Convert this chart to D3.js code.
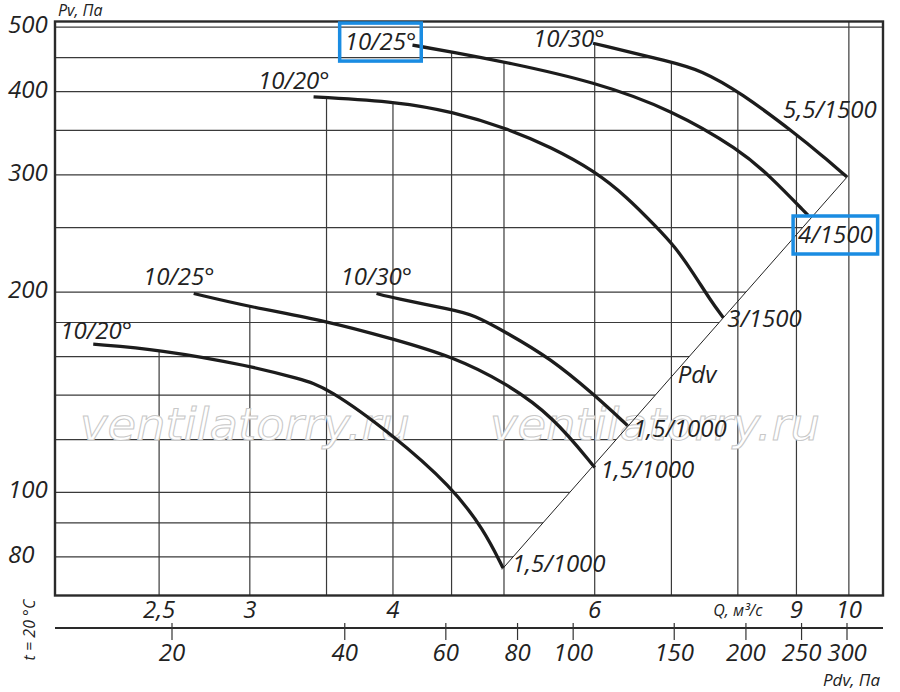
<!DOCTYPE html>
<html>
<head>
<meta charset="utf-8">
<script src="https://cdn.jsdelivr.net/npm/d3@7"></script>
<style>
    html, body { margin: 0; padding: 0; background: #fff; }
    svg { display: block; font-family: "Open Sans", sans-serif; font-style: italic; }
</style>
</head>
<body>
<svg id="chart" width="900" height="692"></svg>
<script>
// axes
const qTicks = [2.5, 3, 4, 6, 9, 10];
const qGrid = [2.5, 3, 3.5, 4, 4.5, 5, 6, 7, 8, 9, 10];
const pvTicks = [80, 100, 200, 300, 400, 500];
const pvGrid = [80, 90, 100, 120, 140, 160, 180, 200, 250, 300, 350, 400, 450, 500];
const pdvTicks = [20, 40, 60, 80, 100, 150, 200, 250, 300];

// fan curves: [Q m3/s, Pv Pa]
const fan20Upper = [[3.41, 393], [4.06, 386], [4.51, 373], [5.02, 353], [5.5, 330], [6.0, 304], [6.4, 278], [6.8, 250], [7.05, 234], [7.31, 214], [7.57, 194.5], [7.77, 183]];
const fan25Upper = [[4.16, 470], [4.51, 459], [5.02, 443], [6.0, 414], [7.02, 375], [8.03, 327], [8.53, 299], [9.21, 261]];
const fan30Upper = [[5.98, 473], [7.02, 443], [7.42, 431], [8.03, 400], [9.06, 342], [9.43, 323], [9.96, 298]];
const fan20Lower = [[2.19, 167], [2.5, 164], [3.0, 155], [3.32, 148], [3.5, 144], [4.0, 122], [4.5, 102], [4.8, 88], [4.99, 77]];
const fan25Lower = [[2.68, 199], [3.0, 190], [3.5, 181], [4.0, 170], [4.51, 160], [5.02, 146], [5.52, 130], [6.0, 109]];
const fan30Lower = [[3.87, 199], [4.0, 196], [4.51, 188], [4.7, 185], [5.02, 174], [5.49, 159], [6.0, 140], [6.41, 126]];
const pdvLine = [[4.98, 76.6], [9.98, 298.7]];

const curveLabels = [
    {text: '10/25°', q: 3.63, pv: 462},
    {text: '10/20°', q: 3.05, pv: 404},
    {text: '10/30°', q: 5.30, pv: 467},
    {text: '5,5/1500', q: 8.76, pv: 365},
    {text: '4/1500', q: 9.03, pv: 237},
    {text: '3/1500', q: 7.83, pv: 177},
    {text: 'Pdv', q: 7.09, pv: 146},
    {text: '1,5/1000', q: 6.48, pv: 121},
    {text: '1,5/1000', q: 6.07, pv: 105},
    {text: '1,5/1000', q: 5.08, pv: 76},
    {text: '10/25°', q: 2.42, pv: 205},
    {text: '10/30°', q: 3.60, pv: 205},
    {text: '10/20°', q: 2.05, pv: 170},
];
const highlighted = [0, 4];

const Chart = new function () {

    const that = this;

    const root = d3.select('#chart');
    const defs = root.append('defs');
    const gridLayer = root.append('g');
    const markLayer = root.append('g');
    const curveLayer = root.append('g');
    const textLayer = root.append('g');

    const box = {left: 55, right: 883, top: 21.5, bottom: 595.5};
    const pdvAxisY = 628;

    const x = d3.scaleLog().domain([2.028, 10.71]).range([box.left, box.right]);
    const y = d3.scaleLog().domain([70, 510]).range([box.bottom, box.top]);
    const xPdv = d3.scaleLog().domain([20, 300]).range([172, 847]);

    const fans = [fan20Upper, fan25Upper, fan30Upper, fan20Lower, fan25Lower, fan30Lower];
    const comma = v => String(v).replace('.', ',');

    const line = d3.line()
        .x(d => x(d[0]))
        .y(d => y(d[1]))
        .curve(d3.curveBasis);

    const area = d3.area()
        .x(d => x(d[0]))
        .y0(box.bottom)
        .y1(d => y(d[1]))
        .curve(d3.curveBasis);

    let fanPaths = [];

    this.drawCurves = function () {
        fanPaths = fans.map(f => curveLayer.append('path')
            .attr('d', line(f))
            .attr('fill', 'none')
            .attr('stroke', '#1c1c1c')
            .attr('stroke-width', 3.3));

        curveLayer.append('path')
            .attr('d', d3.line().x(d => x(d[0])).y(d => y(d[1]))(pdvLine))
            .attr('fill', 'none')
            .attr('stroke', '#222')
            .attr('stroke-width', 1);
    };

    this.drawGrid = function () {
        // vertical lines only below the curves
        const vClip = defs.append('clipPath').attr('id', 'vclip');
        fans.forEach(f => vClip.append('path').attr('d', area(f)));
        const lastQ = fan30Upper[fan30Upper.length - 1][0];
        vClip.append('rect')
            .attr('x', x(lastQ))
            .attr('y', box.top)
            .attr('width', box.right - x(lastQ))
            .attr('height', box.bottom - box.top);

        // horizontal lines stop at the outer curve and the Pdv line
        const node = fanPaths[2].node();
        const len = node.getTotalLength();
        const pts = [[box.left, box.bottom], [box.left, box.top], [box.right, box.top],
            [box.right, y(fan30Upper[0][1])]];
        for (let s = 0; s <= len; s += 2) {
            const p = node.getPointAtLength(s);
            pts.push([p.x, p.y]);
        }
        pts.push([x(pdvLine[1][0]), y(pdvLine[1][1])]);
        pts.push([x(pdvLine[0][0]), y(pdvLine[0][1])]);
        pts.push([x(pdvLine[0][0]), box.bottom]);
        defs.append('clipPath').attr('id', 'hclip')
            .append('path')
            .attr('d', d3.line()(pts) + 'Z');

        gridLayer.append('g')
            .attr('clip-path', 'url(#vclip)')
            .selectAll('line')
            .data(qGrid)
            .join('line')
            .attr('x1', d => x(d))
            .attr('x2', d => x(d))
            .attr('y1', box.top)
            .attr('y2', box.bottom)
            .attr('stroke', '#3a3a3a')
            .attr('stroke-width', 1.2);

        gridLayer.append('g')
            .attr('clip-path', 'url(#hclip)')
            .selectAll('line')
            .data(pvGrid)
            .join('line')
            .attr('x1', box.left)
            .attr('x2', box.right)
            .attr('y1', d => y(d))
            .attr('y2', d => y(d))
            .attr('stroke', '#3a3a3a')
            .attr('stroke-width', 1.2);
    };

    this.drawFrame = function () {
        markLayer.append('rect')
            .attr('x', box.left)
            .attr('y', box.top)
            .attr('width', box.right - box.left)
            .attr('height', box.bottom - box.top)
            .attr('fill', 'none')
            .attr('stroke', '#2a2a2a')
            .attr('stroke-width', 2.4);

        // Pv labels
        textLayer.append('g')
            .selectAll('text')
            .data(pvTicks)
            .join('text')
            .attr('x', 8)
            .attr('y', d => y(d) + 6)
            .attr('font-size', 24)
            .attr('fill', '#222')
            .text(d => d);

        textLayer.append('text')
            .attr('x', 58)
            .attr('y', 16)
            .attr('font-size', 16)
            .attr('fill', '#222')
            .text('Pv, Па');

        // Q labels
        textLayer.append('g')
            .selectAll('text')
            .data(qTicks)
            .join('text')
            .attr('x', d => x(d))
            .attr('y', 618)
            .attr('text-anchor', 'middle')
            .attr('font-size', 24)
            .attr('fill', '#222')
            .text(d => comma(d));

        textLayer.append('text')
            .attr('x', x(8))
            .attr('y', 616)
            .attr('text-anchor', 'middle')
            .attr('font-size', 16)
            .attr('fill', '#222')
            .text('Q, м³/с');

        // Pdv axis
        markLayer.append('line')
            .attr('x1', box.left)
            .attr('x2', box.right)
            .attr('y1', pdvAxisY)
            .attr('y2', pdvAxisY)
            .attr('stroke', '#2a2a2a')
            .attr('stroke-width', 2);

        markLayer.append('g')
            .selectAll('line')
            .data(pdvTicks)
            .join('line')
            .attr('x1', d => xPdv(d))
            .attr('x2', d => xPdv(d))
            .attr('y1', pdvAxisY - 5)
            .attr('y2', pdvAxisY + 12)
            .attr('stroke', '#333')
            .attr('stroke-width', 1.2);

        textLayer.append('g')
            .selectAll('text')
            .data(pdvTicks)
            .join('text')
            .attr('x', d => xPdv(d))
            .attr('y', 661)
            .attr('text-anchor', 'middle')
            .attr('font-size', 24)
            .attr('fill', '#222')
            .text(d => d);

        textLayer.append('text')
            .attr('x', 880)
            .attr('y', 686)
            .attr('text-anchor', 'end')
            .attr('font-size', 17)
            .attr('fill', '#222')
            .text('Pdv, Па');

        textLayer.append('text')
            .attr('transform', 'translate(35,630) rotate(-90)')
            .attr('text-anchor', 'middle')
            .attr('font-size', 16)
            .attr('fill', '#222')
            .text('t = 20 °C');
    };

    this.drawWatermark = function () {
        [80, 490].forEach(wx => {
            markLayer.append('text')
                .attr('x', wx)
                .attr('y', 440)
                .attr('textLength', 330)
                .attr('lengthAdjust', 'spacingAndGlyphs')
                .attr('font-family', '"DejaVu Sans", sans-serif')
                .attr('font-size', 44)
                .attr('fill', '#fff')
                .attr('stroke', '#c8c8c8')
                .attr('stroke-width', 1)
                .text('ventilatorry.ru');
        });
    };

    this.drawLabels = function () {
        const labels = textLayer.append('g')
            .selectAll('text')
            .data(curveLabels)
            .join('text')
            .attr('x', d => x(d.q))
            .attr('y', d => y(d.pv))
            .attr('font-size', 24)
            .attr('fill', '#222')
            .text(d => d.text);

        labels.filter((d, i) => highlighted.includes(i)).each(function () {
            const bb = this.getBBox();
            textLayer.append('rect')
                .attr('x', bb.x - 5)
                .attr('y', bb.y - 1)
                .attr('width', bb.width + 10)
                .attr('height', bb.height + 5)
                .attr('fill', 'none')
                .attr('stroke', '#1a8ce2')
                .attr('stroke-width', 3.5);
        });
    };

    this.init = function () {
        that.drawCurves();
        that.drawGrid();
        that.drawWatermark();
        that.drawFrame();
        that.drawLabels();
    };
};

Chart.init();
</script>
</body>
</html>
